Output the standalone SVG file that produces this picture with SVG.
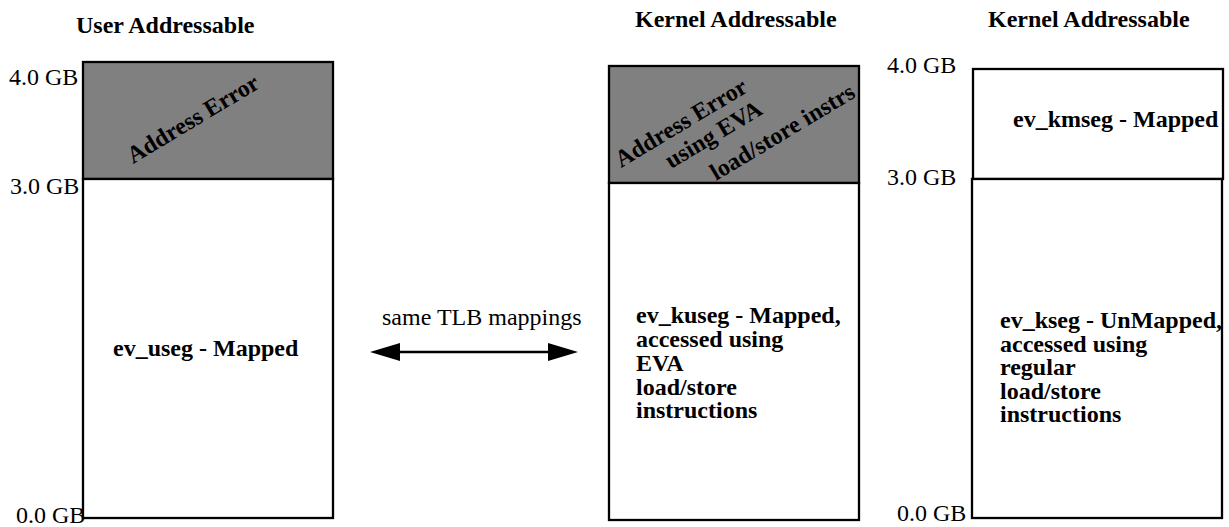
<svg xmlns="http://www.w3.org/2000/svg" width="1229" height="527" viewBox="0 0 1229 527">
  <style>
    .box { fill: #ffffff; stroke: #000000; stroke-width: 2.3; }
    .err { fill: #808080; stroke: #000000; stroke-width: 2.3; }
    .title { font-family: "Liberation Serif", "Times New Roman", serif; font-weight: bold; font-size: 24px; fill: #000; }
    .lbl { font-family: "Liberation Serif", "Times New Roman", serif; font-weight: bold; font-size: 24px; fill: #000; }
    .axis { font-family: "Liberation Serif", "Times New Roman", serif; font-size: 24px; fill: #000; }
    .conn { stroke: #000; stroke-width: 2.5; fill: none; }
  </style>
  <defs>
    <marker id="arrow" viewBox="0 0 30 18" markerWidth="30" markerHeight="18" refX="0" refY="9" orient="auto-start-reverse" markerUnits="userSpaceOnUse">
      <path d="M0,0 L30,9 L0,18 z" fill="#000"/>
    </marker>
  </defs>
  <rect width="1229" height="527" fill="#ffffff"/>

  <g id="user-space">
    <text class="title" x="76" y="33">User Addressable</text>
    <rect class="err" x="83" y="62" width="250" height="117"/>
    <text class="lbl" transform="translate(133,164) rotate(-31)">Address Error</text>
    <rect class="box" x="83" y="179" width="250" height="339"/>
    <text class="lbl" x="113" y="356">ev_useg - Mapped</text>
    <text class="axis" x="9" y="85">4.0 GB</text>
    <text class="axis" x="10" y="194">3.0 GB</text>
    <text class="axis" x="16" y="523">0.0 GB</text>
  </g>

  <g id="kernel-eva">
    <text class="title" x="635" y="27">Kernel Addressable</text>
    <rect class="err" x="609" y="66" width="250" height="117"/>
    <text class="lbl" transform="translate(621,168) rotate(-31)">Address Error</text>
    <text class="lbl" transform="translate(671,169) rotate(-31)">using EVA</text>
    <text class="lbl" transform="translate(716,181) rotate(-31)">load/store instrs</text>
    <rect class="box" x="609" y="183" width="250" height="337"/>
    <text class="lbl" x="636" y="323">ev_kuseg - Mapped,</text>
    <text class="lbl" x="636" y="347">accessed using</text>
    <text class="lbl" x="636" y="371">EVA</text>
    <text class="lbl" x="636" y="394.5">load/store</text>
    <text class="lbl" x="636" y="418">instructions</text>
  </g>

  <g id="kernel-regular">
    <text class="title" x="988" y="27">Kernel Addressable</text>
    <rect class="box" x="973" y="69" width="250" height="110"/>
    <text class="lbl" x="1013" y="127">ev_kmseg - Mapped</text>
    <rect class="box" x="972" y="179" width="250" height="339"/>
    <text class="lbl" x="1000" y="328">ev_kseg - UnMapped,</text>
    <text class="lbl" x="1000" y="351.5">accessed using</text>
    <text class="lbl" x="1000" y="375">regular</text>
    <text class="lbl" x="1000" y="398.5">load/store</text>
    <text class="lbl" x="1000" y="422">instructions</text>
    <text class="axis" x="887" y="73">4.0 GB</text>
    <text class="axis" x="887" y="185">3.0 GB</text>
    <text class="axis" x="897" y="521">0.0 GB</text>
  </g>

  <g id="connectors">
    <line class="conn" x1="400" y1="352" x2="548" y2="352" marker-start="url(#arrow)" marker-end="url(#arrow)"/>
    <text class="axis" x="382" y="325">same TLB mappings</text>
  </g>
</svg>
